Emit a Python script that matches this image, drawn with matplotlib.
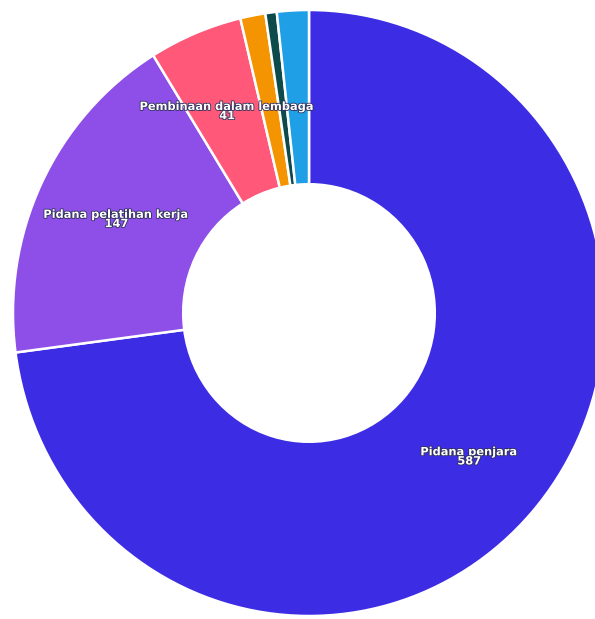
import matplotlib.pyplot as plt
import matplotlib.patheffects as pe
import numpy as np

categories = ['Pidana penjara', 'Pidana pelatihan kerja', 'Pembinaan dalam lembaga',
              'Lainnya 1', 'Lainnya 2', 'Lainnya 3']
values = [587, 147, 41, 11, 5, 14]
colors = ['#3c2ce4', '#8d4fe8', '#ff5879', '#f39400', '#0c4a4c', '#1e9fe6']
show_label = [True, True, True, False, False, False]

fig = plt.figure(figsize=(5.95, 6.19), dpi=100)
ax = fig.add_axes([0, 0, 1, 1])

wedges, _ = ax.pie(values, colors=colors, startangle=90, counterclock=False,
                   radius=1.0,
                   wedgeprops=dict(width=0.575, edgecolor='white', linewidth=1.8))

# picture is slightly stretched vertically
ax.set_aspect('auto')
cx, cy = 309, 313
sx, sy = 296, 303
ax.set_xlim(-cx / sx, (595 - cx) / sx)
ax.set_ylim(-(619 - cy) / sy, cy / sy)
ax.axis('off')

r_lab = 0.72
for w, name, v, show in zip(wedges, categories, values, show_label):
    if not show:
        continue
    ang = np.deg2rad((w.theta1 + w.theta2) / 2)
    x, y = r_lab * np.cos(ang), r_lab * np.sin(ang)
    ax.text(x, y, f'{name}\n{v}', ha='center', va='center', color='white',
            fontsize=8.2, fontweight='bold', linespacing=0.9,
            path_effects=[pe.withStroke(linewidth=1.2, foreground='#30305a')])

plt.savefig('out.png', dpi=100)
